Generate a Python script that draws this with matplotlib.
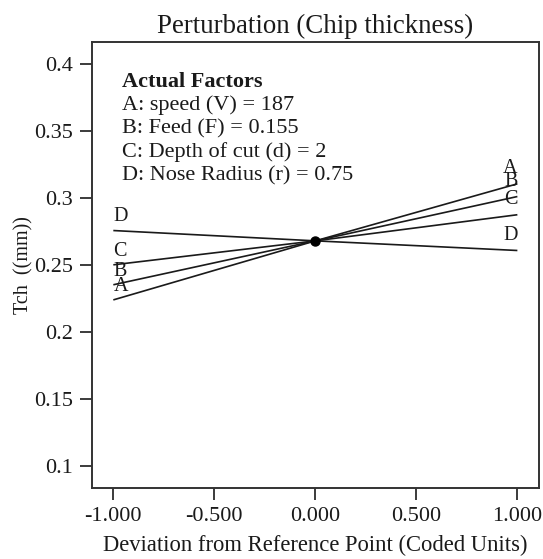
import matplotlib
matplotlib.use("Agg")
import matplotlib.pyplot as plt

# Coded deviation from the reference point
deviation = [-1.0, 0.0, 1.0]

# Predicted chip thickness (mm) along each factor's perturbation trace
factor_names = ["A", "B", "C", "D"]
trace_A = [0.2238, 0.2679, 0.3105]
trace_B = [0.2351, 0.2679, 0.3010]
trace_C = [0.2500, 0.2679, 0.2874]
trace_D = [0.2756, 0.2679, 0.2607]
traces = [trace_A, trace_B, trace_C, trace_D]

reference_value = 0.2679

x_ticks = [-1.0, -0.5, 0.0, 0.5, 1.0]
x_tick_labels = ["-1.000", "-0.500", "0.000", "0.500", "1.000"]
y_ticks = [0.1, 0.15, 0.2, 0.25, 0.3, 0.35, 0.4]
y_tick_labels = ["0.1", "0.15", "0.2", "0.25", "0.3", "0.35", "0.4"]

factor_lines = [
    "A: speed (V) = 187",
    "B: Feed (F) = 0.155",
    "C: Depth of cut (d) = 2",
    "D: Nose Radius (r) = 0.75",
]

plt.rcParams["font.family"] = ["Liberation Serif", "DejaVu Serif"]

W, H = 543, 559
fig = plt.figure(figsize=(W / 100, H / 100), dpi=100)
ax = fig.add_axes([91.7 / W, 1 - 488.3 / H, (539 - 91.7) / W, (488.3 - 42) / H])

ink = "#1a1a1a"
for name, trace in zip(factor_names, traces):
    ax.plot(deviation, trace, color=ink, lw=1.2, solid_capstyle="butt")
    ax.annotate(name, (deviation[0], trace[0]), xytext=(0, 3),
                textcoords="offset points", ha="left", va="bottom",
                fontsize=14.5, color=ink)
    ax.annotate(name, (deviation[-1], trace[-1]), xytext=(0, 4),
                textcoords="offset points", ha="right", va="bottom",
                fontsize=14.5, color=ink)

ax.plot([0.0], [reference_value], "o", color="black", ms=6.5, zorder=5)

ax.set_xlim(-1.107, 1.107)
ax.set_ylim(0.0831, 0.4164)
ax.set_xticks(x_ticks)
ax.set_xticklabels(x_tick_labels)
ax.set_yticks(y_ticks)
ax.set_yticklabels(y_tick_labels)
ax.tick_params(axis="both", direction="out", length=8.5, width=1.2,
               labelsize=16, colors=ink)
ax.tick_params(axis="x", pad=5)
ax.tick_params(axis="y", pad=5)
ax.tick_params(top=False, right=False)
for spine in ax.spines.values():
    spine.set_linewidth(1.4)
    spine.set_color("#333333")

ax.set_title("Perturbation (Chip thickness)", fontsize=19.4, pad=6.5, color=ink)
ax.set_xlabel("Deviation from Reference Point (Coded Units)", fontsize=16.3,
              color=ink, labelpad=6)
ax.set_ylabel("Tch  ((mm))", fontsize=14.5, color=ink)
ax.yaxis.set_label_coords((33 - 91.7) / (539 - 91.7), 0.5)

# Factor settings block, baselines in pixel rows
block_x = 121.5 / W
baselines = [87.0, 110.3, 133.6, 157.0, 180.2]
fig.text(block_x, 1 - baselines[0] / H, "Actual Factors", fontsize=16,
         fontweight="bold", va="baseline", ha="left", color=ink)
for base, line in zip(baselines[1:], factor_lines):
    fig.text(block_x, 1 - base / H, line, fontsize=16,
             va="baseline", ha="left", color=ink)

fig.savefig("out.png", dpi=100)
